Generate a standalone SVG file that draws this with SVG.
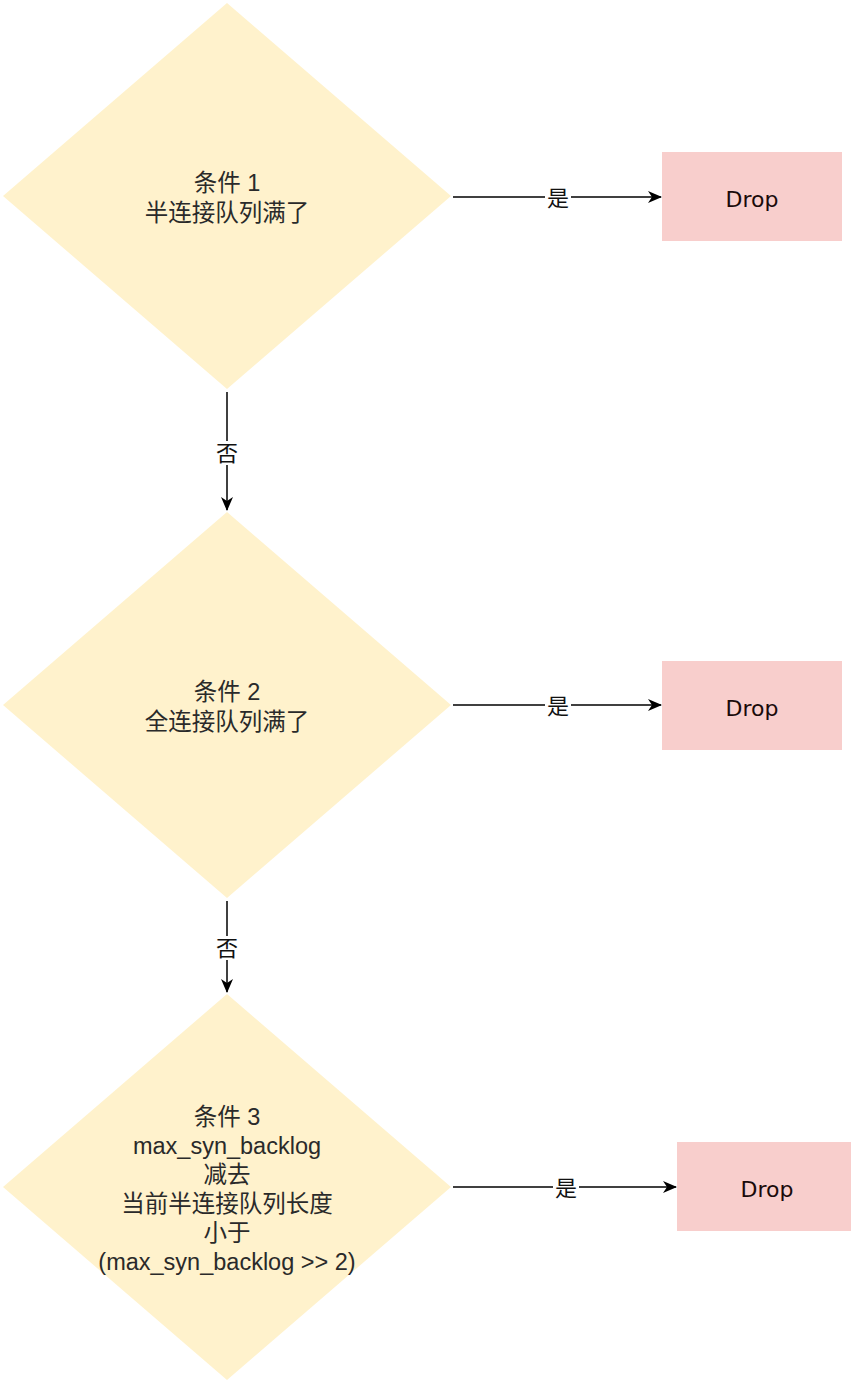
<svg xmlns="http://www.w3.org/2000/svg" width="851" height="1383" viewBox="0 0 851 1383">
<style>
.dia{fill:#fff2cc;stroke:none}
.drop{fill:#f8cecc;stroke:none}
.t{font-family:"Liberation Sans","Noto Sans CJK SC",sans-serif;font-size:23.5px;fill:#2a2a2a;text-anchor:middle}
.dt{font-family:"DejaVu Sans",sans-serif;font-size:22px;fill:#1a0a0a;text-anchor:middle}
.lbl{font-family:"Liberation Sans","Noto Sans CJK SC",sans-serif;font-size:22px;fill:#111;text-anchor:middle}
.edge{stroke:#000;stroke-width:1.5;fill:none;marker-end:url(#arr)}
.bg{fill:#fff}
</style>
<defs>
<marker id="arr" viewBox="0 0 14 12" refX="13" refY="6" markerWidth="14" markerHeight="12" markerUnits="userSpaceOnUse" orient="auto">
<path d="M0,0 L14,6 L0,12 L4,6 Z" fill="#000"/>
</marker>
</defs>
<rect width="851" height="1383" fill="#fff"/>
<g id="cond1">
<polygon class="dia" points="227,3 451,196 227,389 3,196"/>
<text class="t" x="227" y="191">条件 1</text>
<text class="t" x="227" y="221">半连接队列满了</text>
</g>
<g id="drop1">
<rect class="drop" x="662" y="152" width="180" height="89"/>
<text class="dt" x="752" y="207">Drop</text>
</g>
<g id="cond2">
<polygon class="dia" points="227,512 451,705 227,898 3,705"/>
<text class="t" x="227" y="700">条件 2</text>
<text class="t" x="227" y="730">全连接队列满了</text>
</g>
<g id="drop2">
<rect class="drop" x="662" y="661" width="180" height="89"/>
<text class="dt" x="752" y="716">Drop</text>
</g>
<g id="cond3">
<polygon class="dia" points="227,994 451,1187 227,1380 3,1187"/>
<text class="t" x="227" y="1125">条件 3</text>
<text class="t" x="227" y="1154">max_syn_backlog</text>
<text class="t" x="227" y="1183">减去</text>
<text class="t" x="227" y="1212">当前半连接队列长度</text>
<text class="t" x="227" y="1241">小于</text>
<text class="t" x="227" y="1270">(max_syn_backlog &gt;&gt; 2)</text>
</g>
<g id="drop3">
<rect class="drop" x="677" y="1142" width="174" height="89"/>
<text class="dt" x="767" y="1197">Drop</text>
</g>
<g id="connectors">
<path class="edge" d="M453,197 L661,197"/>
<rect class="bg" x="545" y="186" width="26" height="24"/>
<text class="lbl" x="558" y="206">是</text>
<path class="edge" d="M227,392 L227,510"/>
<rect class="bg" x="215" y="441" width="24" height="24"/>
<text class="lbl" x="227" y="461">否</text>
<path class="edge" d="M453,705 L661,705"/>
<rect class="bg" x="545" y="694" width="26" height="24"/>
<text class="lbl" x="558" y="714">是</text>
<path class="edge" d="M227,901 L227,992"/>
<rect class="bg" x="215" y="936" width="24" height="24"/>
<text class="lbl" x="227" y="956">否</text>
<path class="edge" d="M453,1187 L676,1187"/>
<rect class="bg" x="553" y="1176" width="26" height="24"/>
<text class="lbl" x="566" y="1196">是</text>
</g>
</svg>
